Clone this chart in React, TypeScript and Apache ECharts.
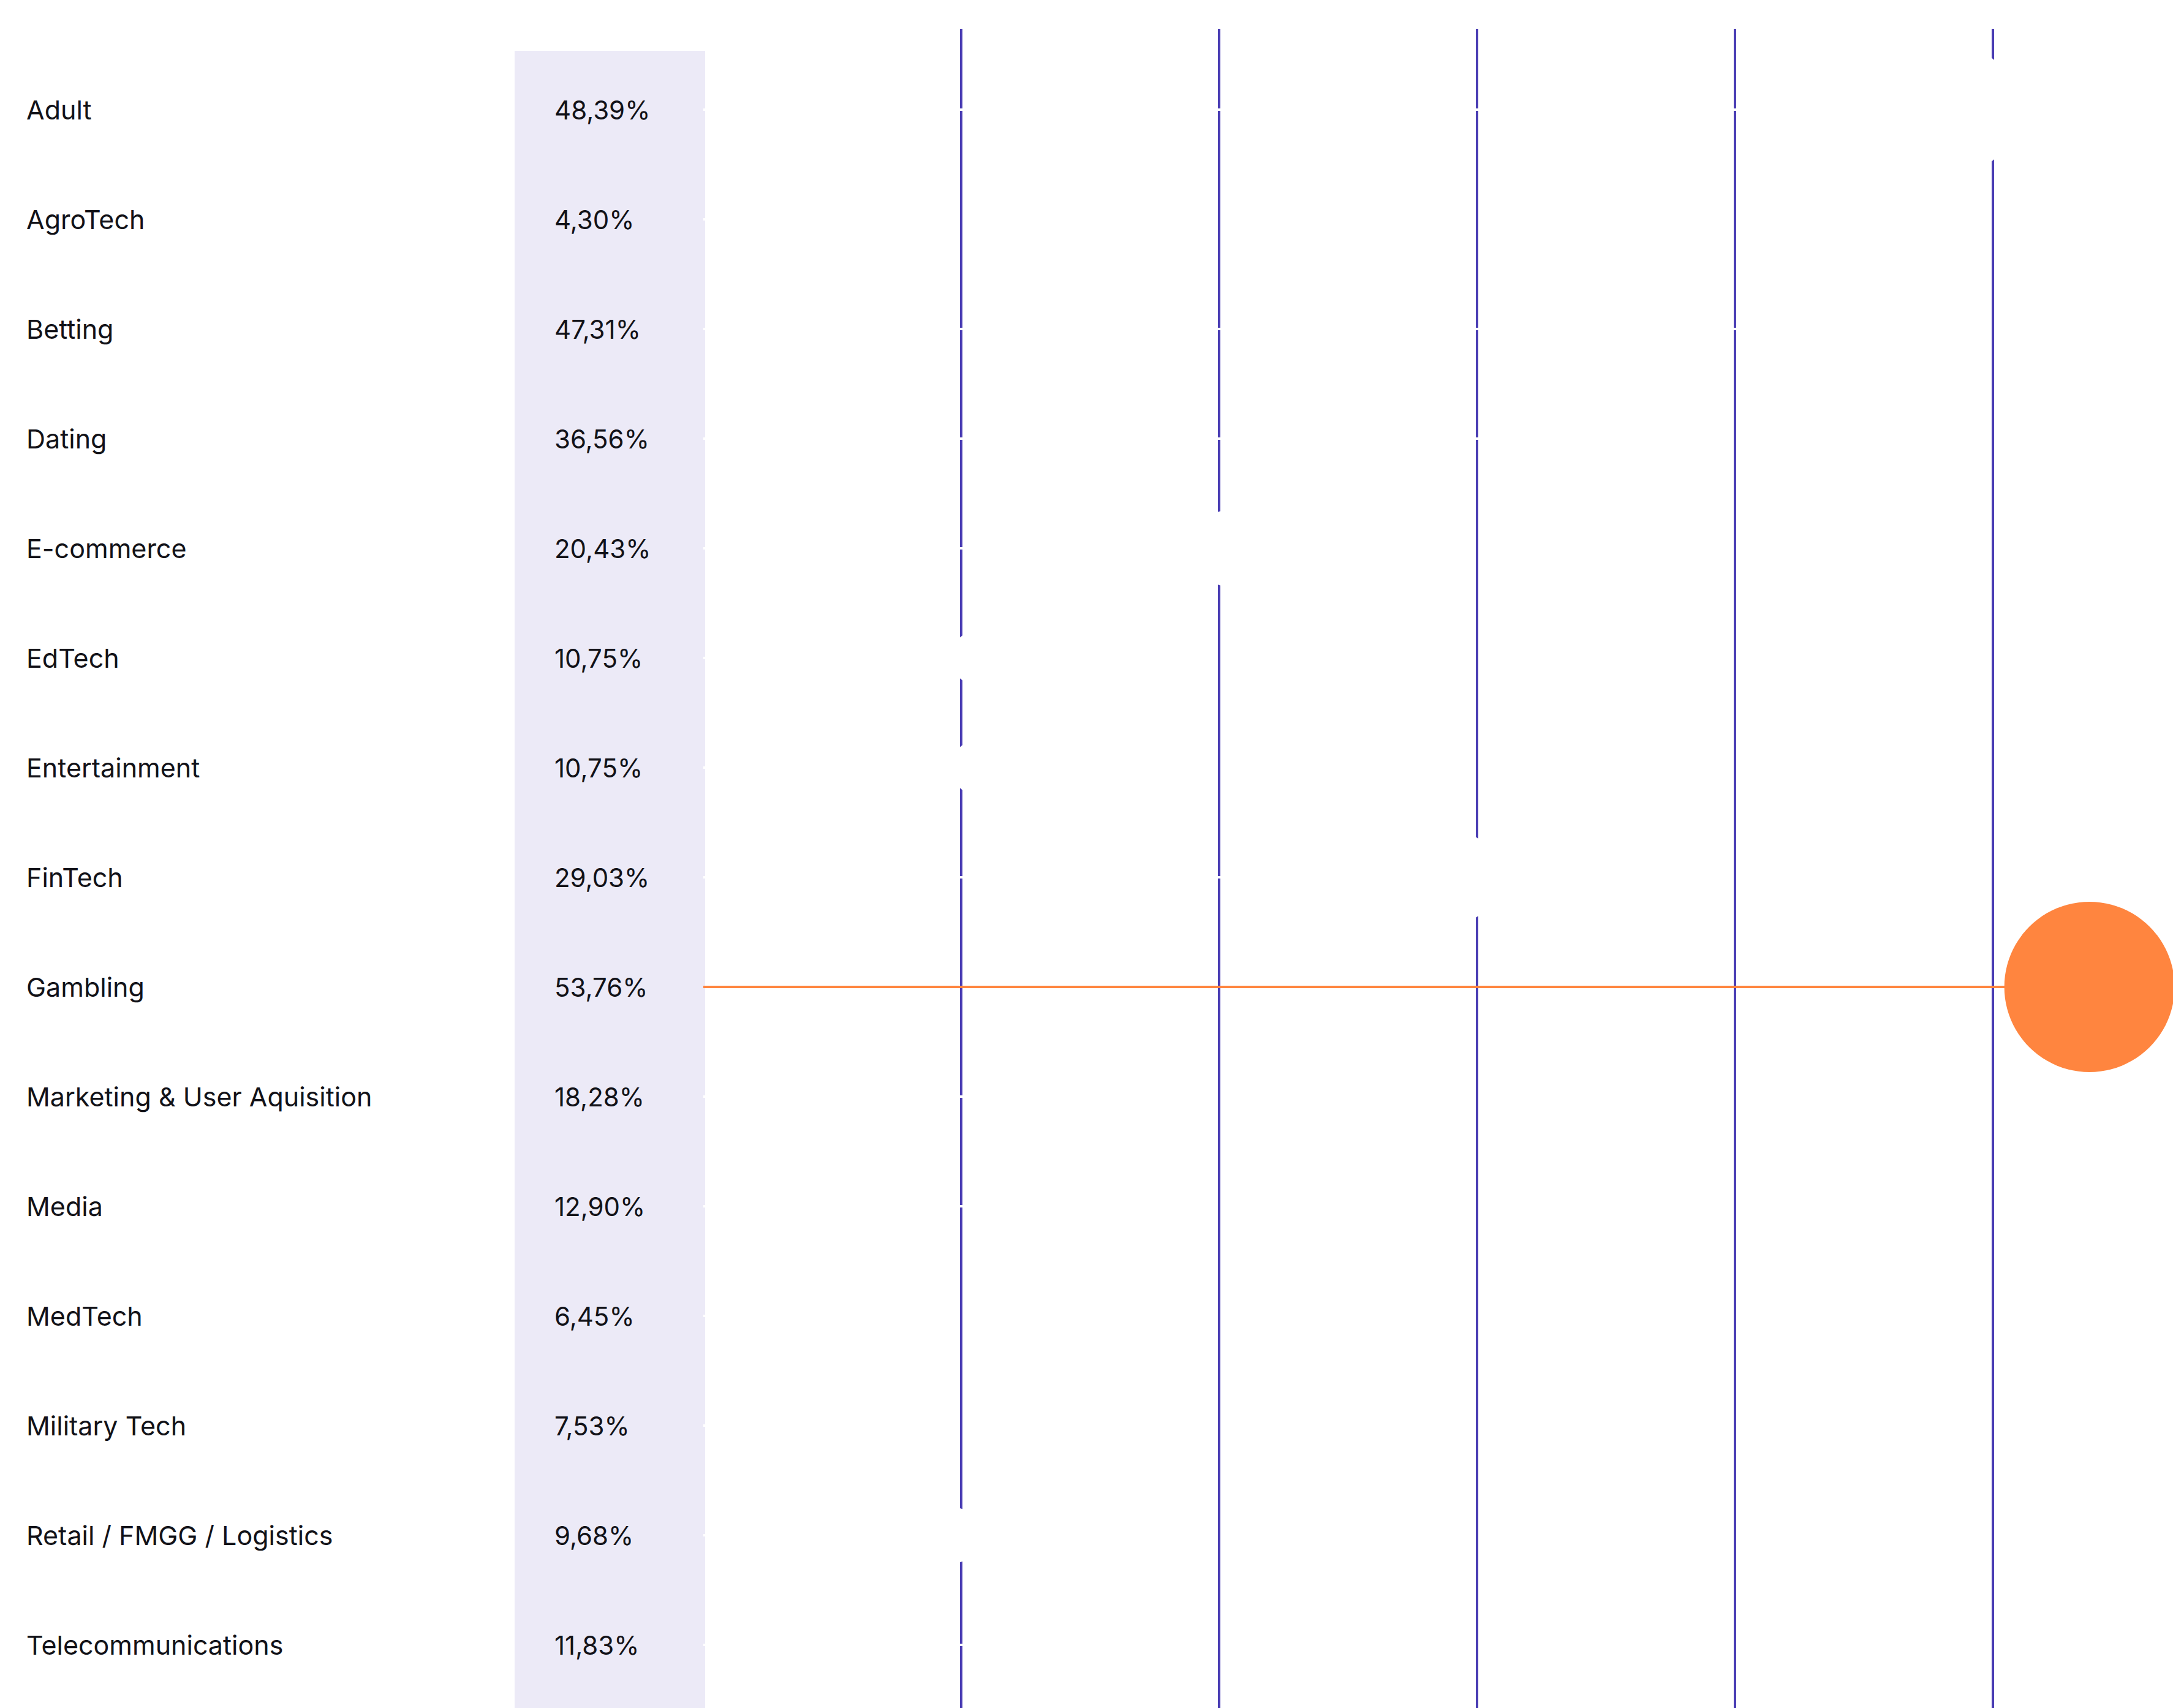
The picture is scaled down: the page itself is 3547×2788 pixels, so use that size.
import React, { useEffect, useRef } from "react";
import * as echarts from "echarts";

const categories = [
  "Adult",
  "AgroTech",
  "Betting",
  "Dating",
  "E-commerce",
  "EdTech",
  "Entertainment",
  "FinTech",
  "Gambling",
  "Marketing & User Aquisition",
  "Media",
  "MedTech",
  "Military Tech",
  "Retail / FMGG / Logistics",
  "Telecommunications",
];

const shares = [48.39, 4.3, 47.31, 36.56, 20.43, 10.75, 10.75, 29.03, 53.76, 18.28, 12.9, 6.45, 7.53, 9.68, 11.83];

// axis range visible in the picture (ticks every 10, cut at the right edge)
const axisMin = 0;
const axisMax = 57;
const axisStep = 10;

const fmtPct = (v: number) => v.toFixed(2).replace(".", ",") + "%";

export default function App() {
  const ref = useRef<HTMLDivElement>(null);
  useEffect(() => {
    document.body.style.margin = "0";
    if (!ref.current) return;
    const chart = echarts.init(ref.current, null, { renderer: "svg" });
    const maxVal = Math.max(...shares);
    const orange = "#FF853F";
    const gridColor = "#4A3DB4";
    const textColor = "#121218";
    const font = "Inter, 'Noto Sans', sans-serif";
    const left = 1148;

    chart.setOption({
      animation: false,
      backgroundColor: "#ffffff",
      graphic: [
        {
          type: "rect",
          z: -10,
          shape: { x: 840, y: 83, width: 311, height: 2788 - 83 },
          style: { fill: "#ECEAF7" },
        },
      ],
      grid: [
        { left, right: 0, top: 89.5, bottom: 13.5 },
        { left, right: 0, top: 47, bottom: 0 },
      ],
      xAxis: [
        { type: "value", gridIndex: 0, min: axisMin, max: axisMax, show: false },
        {
          type: "value",
          gridIndex: 1,
          min: axisMin,
          max: axisMax,
          interval: axisStep,
          axisLine: { show: false },
          axisTick: { show: false },
          axisLabel: { show: false },
          splitLine: {
            show: true,
            showMinLine: false,
            showMaxLine: false,
            lineStyle: { color: gridColor, width: 4 },
          },
        },
      ],
      yAxis: [
        {
          type: "category",
          gridIndex: 0,
          data: categories,
          inverse: true,
          position: "left",
          axisLine: { show: false },
          axisTick: { show: false },
          splitLine: { show: false },
          axisLabel: {
            align: "left",
            margin: left - 43,
            fontSize: 43,
            fontFamily: font,
            color: textColor,
          },
        },
        {
          type: "category",
          gridIndex: 0,
          data: categories,
          inverse: true,
          position: "left",
          axisLine: { show: false },
          axisTick: { show: false },
          splitLine: { show: false },
          axisLabel: {
            align: "left",
            margin: left - 905,
            fontSize: 42,
            fontFamily: font,
            color: textColor,
            formatter: (_v: string, idx: number) => fmtPct(shares[idx]),
          },
        },
        { type: "value", gridIndex: 1, show: false },
      ],
      series: [
        {
          type: "bar",
          xAxisIndex: 0,
          yAxisIndex: 0,
          data: shares,
          barWidth: 4,
          itemStyle: {
            color: (p: any) => (p.value === maxVal ? orange : "#ffffff"),
          },
          z: 2,
        },
        {
          type: "scatter",
          xAxisIndex: 0,
          yAxisIndex: 0,
          data: shares.map((v, i) => [v, categories[i]]),
          symbol: "circle",
          symbolSize: (d: any) => (d[0] === maxVal ? 278 : 2 * (30 + 1.6 * d[0])),
          itemStyle: {
            color: (p: any) => (p.value[0] === maxVal ? orange : "#ffffff"),
            opacity: 1,
          },
          z: 3,
        },
      ],
    });
    return () => chart.dispose();
  }, []);
  return <div ref={ref} style={{ width: 3547, height: 2788 }} />;
}
